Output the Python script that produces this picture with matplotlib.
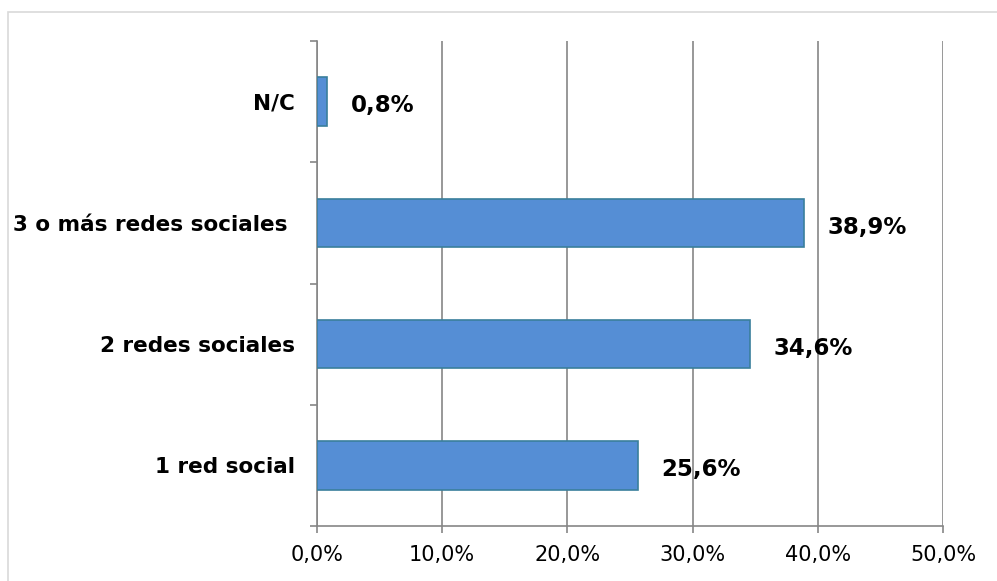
import matplotlib
matplotlib.use("Agg")
import matplotlib.pyplot as plt
from matplotlib.patches import Rectangle
from matplotlib.ticker import FixedLocator, FuncFormatter

# --- data ---
categories = ["1 red social", "2 redes sociales", "3 o más redes sociales ", "N/C"]
values = [25.6, 34.6, 38.9, 0.8]
labels = ["25,6%", "34,6%", "38,9%", "0,8%"]
xticks = [0, 10, 20, 30, 40, 50]

W, H = 997, 581
fig = plt.figure(figsize=(W / 100, H / 100), dpi=100)
fig.patch.set_facecolor("white")

# light outer frame (Excel chart area border), running off the right/bottom edges
fig.patches.append(Rectangle((8 / W, -0.05), 1.0, 1.05 - 12 / H, transform=fig.transFigure,
                             fill=False, edgecolor="#d9d9d9", linewidth=1.2))

# plot area in pixel coords
x0, x1, ytop, ybot = 317, 943, 41, 526
ax = fig.add_axes([x0 / W, (H - ybot) / H, (x1 - x0) / W, (ybot - ytop) / H])

ypos = list(range(len(categories)))
ax.barh(ypos, values, height=0.4, color="#558ed5", edgecolor="#3a7f9c", linewidth=1.2, zorder=3)

ax.set_xlim(0, 50)
ax.set_ylim(-0.5, len(categories) - 0.5)

gray = "#868686"
ax.xaxis.set_major_locator(FixedLocator(xticks))
ax.xaxis.set_major_formatter(FuncFormatter(lambda v, p: f"{v:.1f}%".replace(".", ",")))
ax.grid(axis="x", color=gray, linewidth=1.2, zorder=0)
ax.tick_params(axis="x", length=5, width=1.2, color=gray, labelsize=15, pad=9, labelcolor="black")

# y: ticks at the category boundaries, labels at the centres
ax.yaxis.set_major_locator(FixedLocator([i - 0.5 for i in range(len(categories) + 1)]))
ax.yaxis.set_major_formatter(FuncFormatter(lambda v, p: ""))
ax.yaxis.set_minor_locator(FixedLocator(ypos))
ax.set_yticklabels(categories, minor=True, fontsize=15.5, fontweight="bold")
ax.tick_params(axis="y", which="major", length=5, width=1.2, color=gray)
ax.tick_params(axis="y", which="minor", length=0, pad=16)

for s in ["top", "right"]:
    ax.spines[s].set_visible(False)
for s in ["left", "bottom"]:
    ax.spines[s].set_color(gray)
    ax.spines[s].set_linewidth(1.2)

for y, v, lab in zip(ypos, values, labels):
    ax.annotate(lab, (v, y), xytext=(17, -3), textcoords="offset points",
                ha="left", va="center", fontsize=16.5, fontweight="bold", zorder=4)

fig.savefig("out.png", dpi=100)
